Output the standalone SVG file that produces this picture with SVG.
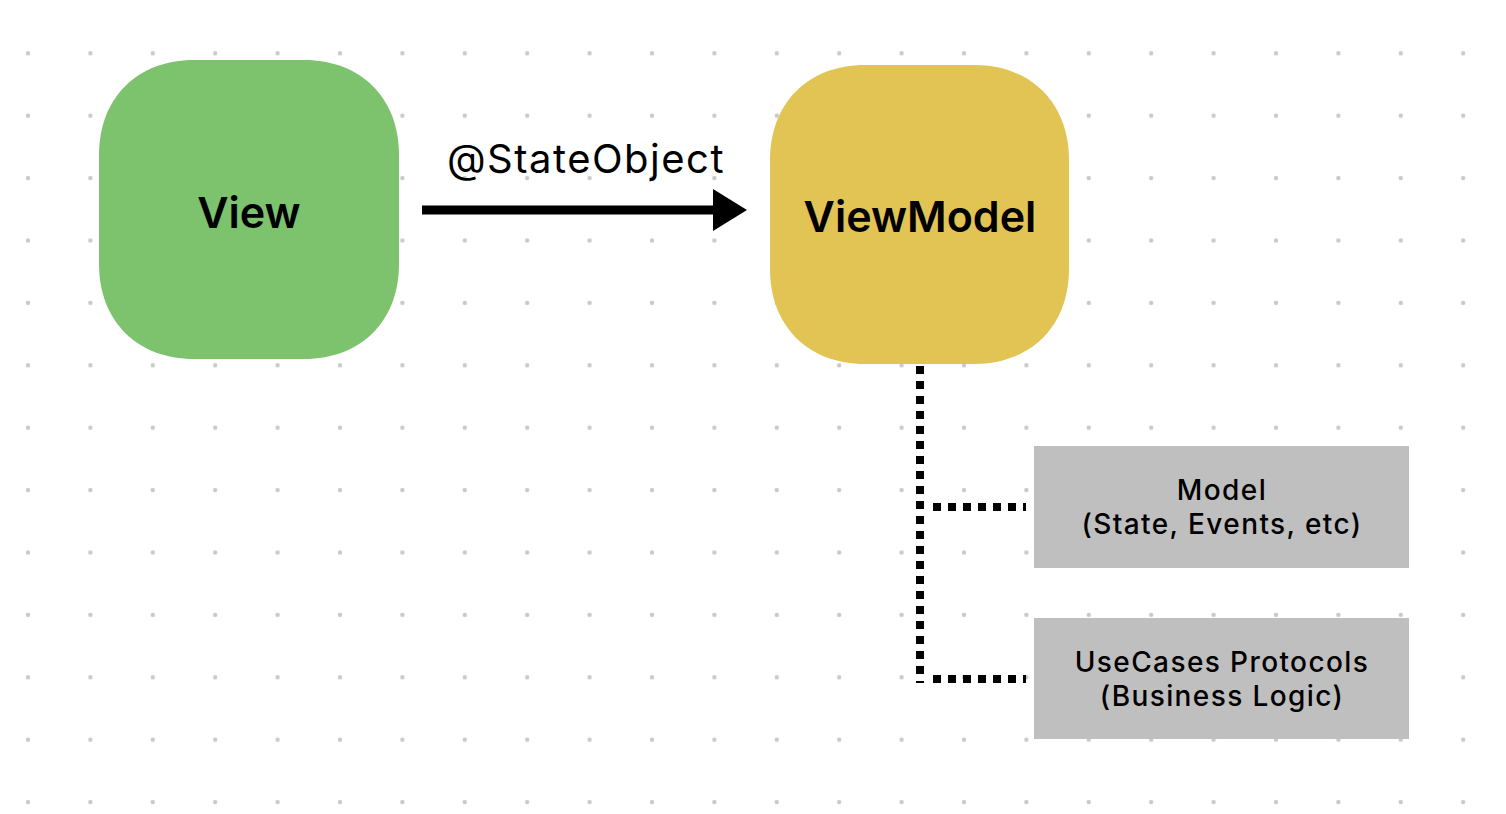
<svg xmlns="http://www.w3.org/2000/svg" width="1506" height="814" viewBox="0 0 1506 814">
<defs>
<pattern id="dots" x="0" y="0" width="62.4" height="62.4" patternUnits="userSpaceOnUse" patternTransform="translate(28 53.3)">
<circle cx="0" cy="0" r="2.2" fill="#c9c9c9"/>
<circle cx="62.4" cy="0" r="2.2" fill="#c9c9c9"/>
<circle cx="0" cy="62.4" r="2.2" fill="#c9c9c9"/>
<circle cx="62.4" cy="62.4" r="2.2" fill="#c9c9c9"/>
</pattern>
<style>
.title{font-family:Inter,"Liberation Sans",sans-serif;font-weight:600;font-size:43px;fill:#000;text-anchor:middle}
.lbl{font-family:Inter,"Liberation Sans",sans-serif;font-weight:400;font-size:40px;letter-spacing:1.5px;fill:#000;text-anchor:middle}
.box{font-family:Inter,"Liberation Sans",sans-serif;font-weight:500;font-size:28px;letter-spacing:1.4px;fill:#000;text-anchor:middle}
.dot{fill:none;stroke:#000;stroke-width:8;stroke-dasharray:8 7}
</style>
</defs>
<rect width="1506" height="814" fill="#fff"/>
<rect x="0" y="0" width="1506" height="814" fill="url(#dots)"/>
<g id="connectors">
<line x1="422" y1="210" x2="716" y2="210" stroke="#000" stroke-width="9"/>
<polygon points="713,189 747,210 713,231" fill="#000"/>
<text class="lbl" x="586" y="173">@StateObject</text>
<path class="dot" d="M920 366 V683"/>
<path class="dot" d="M933 507 H1026"/>
<path class="dot" d="M933 679 H1026"/>
</g>
<g id="view">
<path d="M99 155 C99 98 137 60 194 60 H304 C361 60 399 98 399 155 V264 C399 321 361 359 304 359 H194 C137 359 99 321 99 264 Z" fill="#7dc36e"/>
<text class="title" x="249" y="228">View</text>
</g>
<g id="viewmodel">
<path d="M770 160 C770 103 808 65 865 65 H974 C1031 65 1069 103 1069 160 V269 C1069 326 1031 364 974 364 H865 C808 364 770 326 770 269 Z" fill="#e2c455"/>
<text class="title" x="920" y="232">ViewModel</text>
</g>
<g id="model">
<rect x="1034" y="446" width="375" height="122" fill="#bfbfbf"/>
<text class="box" x="1222" y="500">Model</text>
<text class="box" x="1222" y="534">(State, Events, etc)</text>
</g>
<g id="usecases">
<rect x="1034" y="618" width="375" height="121" fill="#bfbfbf"/>
<text class="box" x="1222" y="672">UseCases Protocols</text>
<text class="box" x="1222" y="706">(Business Logic)</text>
</g>
</svg>
